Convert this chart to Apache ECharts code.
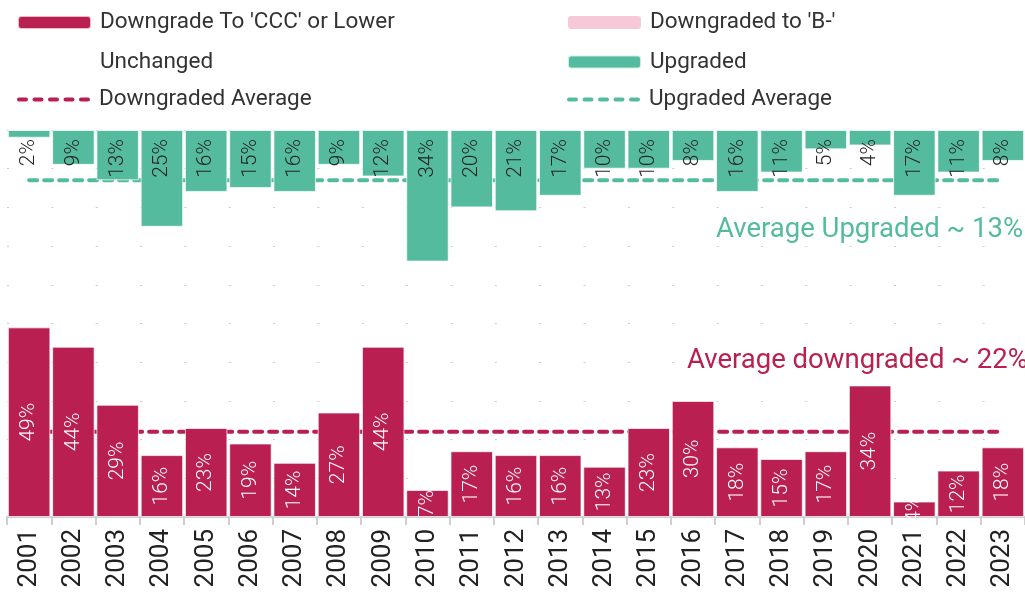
<!DOCTYPE html>
<html>
<head>
<meta charset="utf-8">
<script src="https://cdn.jsdelivr.net/npm/echarts@6/dist/echarts.min.js"></script>
<style>
html,body{margin:0;padding:0;background:#fff;}
#c{width:1025px;height:595px;}
</style>
</head>
<body>
<div id="c"></div>
<script>
const years = ['2001','2002','2003','2004','2005','2006','2007','2008','2009','2010','2011','2012','2013','2014','2015','2016','2017','2018','2019','2020','2021','2022','2023'];
const cccValues = [49,44,29,16,23,19,14,27,44,7,17,16,16,13,23,30,18,15,17,34,4,12,18];
const bMinusValues = [0,0,0,0,0,0,0,0,0,0,0,0,0,0,0,0,0,0,0,0,0,0,0];
const unchangedValues = [49,47,58,59,61,66,70,64,44,59,63,63,67,77,67,62,66,74,78,62,79,77,74];
const upgradedValues = [2,9,13,25,16,15,16,9,12,34,20,21,17,10,10,8,16,11,5,4,17,11,8];
const downAvgValues = [22,22,22,22,22,22,22,22,22,22,22,22,22,22,22,22,22,22,22,22,22,22,22];
const upAvgValues = [13,13,13,13,13,13,13,13,13,13,13,13,13,13,13,13,13,13,13,13,13,13,13];

const CRIMSON = '#B91F50';
const PINK = '#F6C8D8';
const TEAL = '#55BB9F';
const FONT = 'Roboto';
const DASH_ICON = 'path://M2,0H9A2,2,0,0,1,9,4H2A2,2,0,0,1,2,0Z M17.5,0H24.5A2,2,0,0,1,24.5,4H17.5A2,2,0,0,1,17.5,0Z M33,0H40A2,2,0,0,1,40,4H33A2,2,0,0,1,33,0Z M48.5,0H55.5A2,2,0,0,1,55.5,4H48.5A2,2,0,0,1,48.5,0Z M64,0H71A2,2,0,0,1,71,4H64A2,2,0,0,1,64,0Z';

const legendText = {fontSize: 22.5, color: '#333', fontFamily: FONT, padding: [0,0,0,4]};

const chart = echarts.init(document.getElementById('c'), null, {renderer: 'canvas'});
chart.setOption({
  animation: false,
  backgroundColor: '#fff',
  textStyle: {fontFamily: FONT},
  legend: [
    {
      orient: 'vertical', left: 17, top: 11, padding: 0, itemWidth: 73, itemHeight: 13, itemGap: 16.5,
      textStyle: legendText,
      data: ["Downgrade To 'CCC' or Lower", 'Unchanged']
    },
    {
      orient: 'vertical', left: 17, top: 88, padding: 0, itemWidth: 73, itemHeight: 4,
      textStyle: legendText,
      data: [{name: 'Downgraded Average', icon: DASH_ICON}]
    },
    {
      orient: 'vertical', left: 567, top: 11, padding: 0, itemWidth: 73, itemHeight: 13, itemGap: 16.5,
      textStyle: legendText,
      data: ["Downgraded to 'B-'", 'Upgraded']
    },
    {
      orient: 'vertical', left: 567, top: 88, padding: 0, itemWidth: 73, itemHeight: 4,
      textStyle: legendText,
      data: [{name: 'Upgraded Average', icon: DASH_ICON}]
    }
  ],
  grid: {left: 7, right: -2, top: 130, bottom: 78, containLabel: false},
  xAxis: {
    type: 'category', data: years,
    axisLine: {lineStyle: {color: '#cfcfcf', width: 2}},
    axisTick: {show: true, length: 8, lineStyle: {color: '#cfcfcf', width: 2}},
    axisLabel: {rotate: 90, interval: 0, fontSize: 26, color: '#222', margin: 12, fontFamily: FONT}
  },
  yAxis: [
    {
      type: 'value', min: 0, max: 100, interval: 10,
      axisLabel: {show: false}, axisLine: {show: false}, axisTick: {show: false},
      splitLine: {show: true, lineStyle: {color: '#cccccc', width: 1, type: [2, 42.35]}}
    },
    {
      type: 'value', min: 0, max: 100, inverse: true, show: false,
      splitLine: {show: false}
    }
  ],
  graphic: [
    {type: 'text', left: 716, top: 216, style: {text: 'Average Upgraded ~ 13%', fill: TEAL, font: '27.5px ' + FONT}},
    {type: 'text', left: 687, top: 347, style: {text: 'Average downgraded ~ 22%', fill: CRIMSON, font: '27.5px ' + FONT}}
  ],
  series: [
    {
      name: 'Downgraded Average', type: 'line', data: downAvgValues, symbol: 'none', z: 1,
      lineStyle: {color: CRIMSON, width: 4, type: [8, 7], cap: 'round'},
      itemStyle: {color: CRIMSON}
    },
    {
      name: 'Upgraded Average', type: 'line', yAxisIndex: 1, data: upAvgValues, symbol: 'none', z: 1,
      lineStyle: {color: TEAL, width: 4, type: [8, 7], cap: 'round'},
      itemStyle: {color: TEAL}
    },
    {
      name: "Downgrade To 'CCC' or Lower", type: 'bar', stack: 'all', data: cccValues, barCategoryGap: '4%', z: 3,
      itemStyle: {color: CRIMSON, borderColor: 'rgba(255,255,255,0.7)', borderWidth: 1},
      label: {show: true, position: 'inside', rotate: 90, formatter: '{c}%', color: '#fff', fontSize: 21, fontWeight: 300, fontFamily: FONT}
    },
    {
      name: "Downgraded to 'B-'", type: 'bar', stack: 'all', data: bMinusValues, z: 3,
      itemStyle: {color: PINK, borderWidth: 0}
    },
    {
      name: 'Unchanged', type: 'bar', stack: 'all', data: unchangedValues, z: 3,
      itemStyle: {color: 'rgba(255,255,255,0)', borderWidth: 0}
    },
    {
      name: 'Upgraded', type: 'bar', stack: 'all', data: upgradedValues, z: 3,
      itemStyle: {color: TEAL, borderColor: 'rgba(255,255,255,0.7)', borderWidth: 1},
      label: {show: true, position: 'insideTop', distance: 9, rotate: 90, align: 'right', verticalAlign: 'middle', formatter: '{c}%', color: '#222', fontSize: 21, fontWeight: 300, fontFamily: FONT}
    }
  ]
});
</script>
</body>
</html>
